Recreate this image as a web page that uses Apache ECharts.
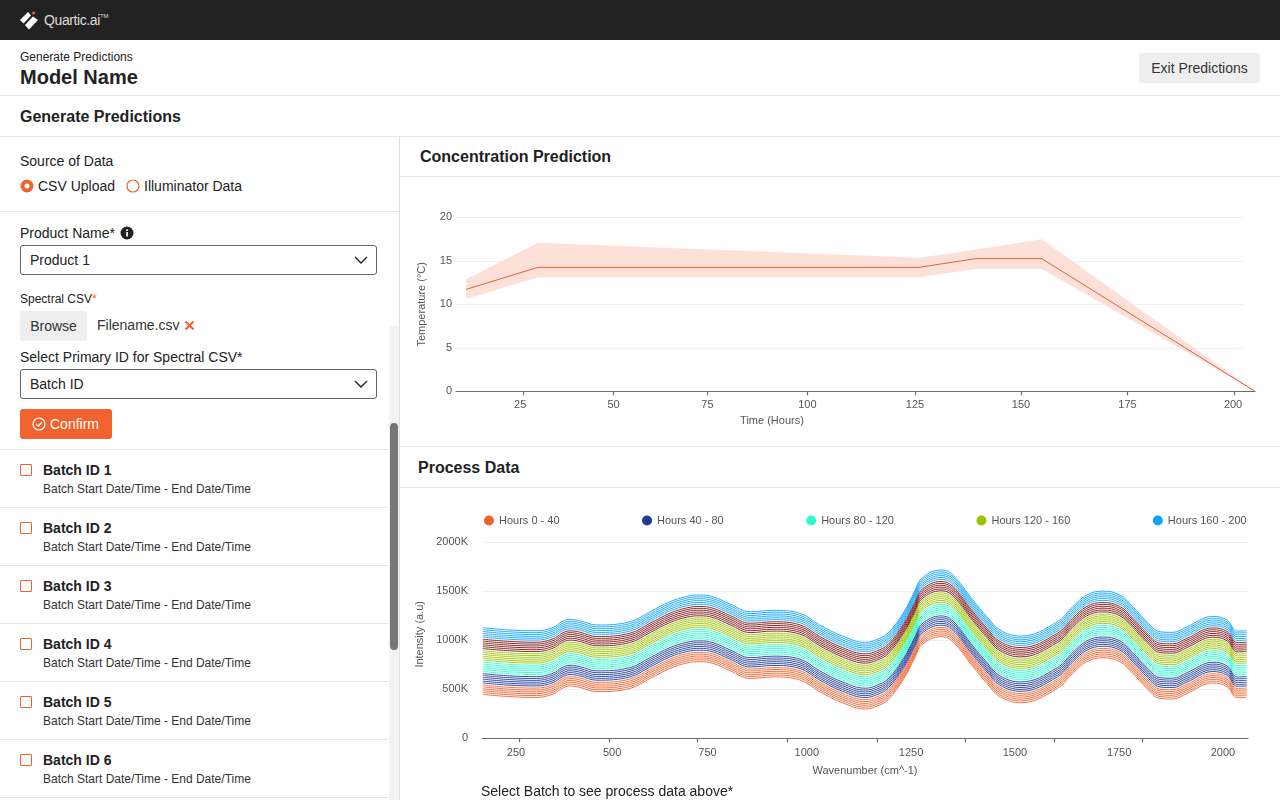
<!DOCTYPE html>
<html>
<head>
<meta charset="utf-8">
<title>Generate Predictions</title>
<script src="https://cdn.jsdelivr.net/npm/echarts@6/dist/echarts.min.js"></script>
<style>
  html, body { margin: 0; padding: 0; background: #fff; overflow: hidden; }
  body { position: relative; width: 1280px; height: 800px; font-family: "Liberation Sans", Arial, sans-serif; color: #222; }
  .abs { position: absolute; white-space: nowrap; }
  .rule { position: absolute; background: #e8e8e8; height: 1px; }
  .select { position: absolute; left: 20px; width: 355px; border: 1px solid #666; border-radius: 3px; box-sizing: content-box; }
  .select span { position: absolute; left: 9px; top: 6px; font-size: 14px; }
  .select svg { position: absolute; right: 8px; top: 9px; }
  .box { position: absolute; left: 20px; width: 10px; height: 10px; border: 1.5px solid #f2622e; border-radius: 1px; }
  .batch { position: absolute; left: 43px; font-size: 14px; font-weight: bold; white-space: nowrap; }
  .sub { position: absolute; left: 43px; font-size: 12px; white-space: nowrap; color: #333; }
</style>
</head>
<body>
<div class="abs" style="left:0;top:0;width:1280px;height:40px;background:#222"></div>
<svg class="abs" style="left:19px;top:9px" width="22" height="22" viewBox="0 0 22 22">
  <polygon points="1,11 9,3 12,6.5 4.5,14.5" fill="#fff"/>
  <polygon points="6,16 14,7.5 19,11 10,20.5" fill="#fff"/>
  <polygon points="13,3 15.5,2.5 16,5 13.5,5.5" fill="#f2622e"/>
</svg>
<div class="abs" style="left:44px;top:12px;font-size:14px;letter-spacing:-0.4px;color:#ddd">Quartic.ai<sup style="font-size:6px;vertical-align:7px;letter-spacing:0">TM</sup></div>

<div class="abs" style="left:20px;top:50px;font-size:12px">Generate Predictions</div>
<div class="abs" style="left:20px;top:66px;font-size:20px;font-weight:bold">Model Name</div>
<div class="abs" style="left:1139px;top:53px;width:121px;height:30px;line-height:30px;background:#eee;border-radius:3px;text-align:center;font-size:14px;color:#333">Exit Predictions</div>
<div class="rule" style="left:0;top:95px;width:1280px"></div>
<div class="abs" style="left:20px;top:108px;font-size:16px;font-weight:bold">Generate Predictions</div>
<div class="rule" style="left:0;top:136px;width:1280px"></div>

<!-- left form -->
<div class="abs" style="left:399px;top:136px;width:1px;height:664px;background:#e0e0e0"></div>
<div class="abs" style="left:20px;top:153px;font-size:14px">Source of Data</div>
<svg class="abs" style="left:20px;top:179px" width="14" height="14"><circle cx="7" cy="7" r="6.5" fill="#f2622e"/><circle cx="7" cy="7" r="2.5" fill="#fff"/></svg>
<div class="abs" style="left:38px;top:178px;font-size:14px">CSV Upload</div>
<svg class="abs" style="left:126px;top:179px" width="14" height="14"><circle cx="7" cy="7" r="6" fill="none" stroke="#f2622e" stroke-width="1.2"/></svg>
<div class="abs" style="left:144px;top:178px;font-size:14px">Illuminator Data</div>
<div class="rule" style="left:0;top:211px;width:399px"></div>

<div class="abs" style="left:20px;top:225px;font-size:14px">Product Name*</div>
<svg class="abs" style="left:120px;top:226px" width="14" height="14"><circle cx="7" cy="7" r="6.5" fill="#222"/><rect x="6.2" y="6" width="1.7" height="4.5" fill="#fff"/><rect x="6.2" y="3.3" width="1.7" height="1.7" fill="#fff"/></svg>
<div class="select" style="top:245px;height:28px"><span>Product 1</span><svg width="14" height="10"><polyline points="1,2 7,8 13,2" fill="none" stroke="#222" stroke-width="1.4"/></svg></div>

<div class="abs" style="left:20px;top:292px;font-size:12px">Spectral CSV<span style="color:#f2622e">*</span></div>
<div class="abs" style="left:20px;top:311px;width:67px;height:30px;line-height:30px;background:#eee;border-radius:3px;text-align:center;font-size:14px;color:#333">Browse</div>
<div class="abs" style="left:97px;top:317px;font-size:14px;color:#333">Filename.csv</div>
<svg class="abs" style="left:184px;top:320px" width="11" height="11"><path d="M1.5,1.5 L9.5,9.5 M9.5,1.5 L1.5,9.5" stroke="#f2622e" stroke-width="2"/></svg>
<div class="abs" style="left:20px;top:349px;font-size:14px">Select Primary ID for Spectral CSV*</div>
<div class="select" style="top:369px;height:28px"><span>Batch ID</span><svg width="14" height="10"><polyline points="1,2 7,8 13,2" fill="none" stroke="#222" stroke-width="1.4"/></svg></div>
<div class="abs" style="left:20px;top:409px;width:92px;height:30px;background:#f2622e;border-radius:3px"></div>
<svg class="abs" style="left:32px;top:417px" width="14" height="14"><circle cx="7" cy="7" r="6" fill="none" stroke="#fff" stroke-width="1.2"/><polyline points="4,7 6.3,9.3 10,5" fill="none" stroke="#fff" stroke-width="1.2"/></svg>
<div class="abs" style="left:50px;top:416px;font-size:14px;color:#fff">Confirm</div>
<div class="rule" style="left:0;top:449px;width:389px"></div>

<div class="box" style="top:464px"></div><div class="batch" style="top:462px">Batch ID 1</div><div class="sub" style="top:482px">Batch Start Date/Time - End Date/Time</div>
<div class="rule" style="left:0;top:507px;width:389px"></div>
<div class="box" style="top:522px"></div><div class="batch" style="top:520px">Batch ID 2</div><div class="sub" style="top:540px">Batch Start Date/Time - End Date/Time</div>
<div class="rule" style="left:0;top:565px;width:389px"></div>
<div class="box" style="top:580px"></div><div class="batch" style="top:578px">Batch ID 3</div><div class="sub" style="top:598px">Batch Start Date/Time - End Date/Time</div>
<div class="rule" style="left:0;top:623px;width:389px"></div>
<div class="box" style="top:638px"></div><div class="batch" style="top:636px">Batch ID 4</div><div class="sub" style="top:656px">Batch Start Date/Time - End Date/Time</div>
<div class="rule" style="left:0;top:681px;width:389px"></div>
<div class="box" style="top:696px"></div><div class="batch" style="top:694px">Batch ID 5</div><div class="sub" style="top:714px">Batch Start Date/Time - End Date/Time</div>
<div class="rule" style="left:0;top:739px;width:389px"></div>
<div class="box" style="top:754px"></div><div class="batch" style="top:752px">Batch ID 6</div><div class="sub" style="top:772px">Batch Start Date/Time - End Date/Time</div>
<div class="rule" style="left:0;top:797px;width:389px"></div>

<div class="abs" style="left:389px;top:326px;width:10px;height:474px;background:#f3f3f3"></div>
<div class="abs" style="left:390px;top:423px;width:8px;height:227px;background:#777;border-radius:4px"></div>

<!-- right panels -->
<div class="abs" style="left:420px;top:148px;font-size:16px;font-weight:bold">Concentration Prediction</div>
<div class="rule" style="left:400px;top:176px;width:880px"></div>
<div id="predictionChart" class="abs" style="left:400px;top:177px;width:880px;height:269px"></div>
<div class="rule" style="left:400px;top:446px;width:880px"></div>
<div class="abs" style="left:418px;top:459px;font-size:16px;font-weight:bold">Process Data</div>
<div class="rule" style="left:400px;top:487px;width:880px"></div>
<div id="processChart" class="abs" style="left:400px;top:488px;width:880px;height:298px"></div>
<div class="abs" style="left:481px;top:783px;font-size:14px">Select Batch to see process data above*</div>

<script>
// concentration prediction
const timeHours = [11, 28.7, 122.5, 136.5, 152.7, 205.2];
const predicted = [11.72, 14.25, 14.25, 15.25, 15.25, 0];
const bandUpper = [12.87, 17.08, 15.36, 16.3, 17.47, 0];
const bandLower = [10.6, 13.1, 13.1, 14.05, 14.05, 0];
const tempGridValues = [5, 10, 15, 20];
// the picture's tick spacing is uneven, so ticks sit at read positions on a linear axis
const timeTickPos = [25, 47.3, 70.4, 95, 121.5, 147.6, 173.8, 200];
const timeLabelPos = [24.3, 47.3, 70.4, 95, 121.5, 147.6, 173.8, 199.8];
const timeTickLabels = ['25', '50', '75', '100', '125', '150', '175', '200'];

// process data, intensity in K at each wavenumber
const waveLabelPos = [250, 488, 724, 970, 1228, 1485, 1743, 2000];
const waveLabels = ['250', '500', '750', '1000', '1250', '1500', '1750', '2000'];
const waveTickPos = [257, 480, 698, 921, 1144, 1361, 1582, 1800];
const wavenumbers = [168,235,300,342,364,384,408,450,532,582,631,673,705,738,780,830,886,953,1002,1058,1115,1143,1171,1210,1236,1255,1302,1329,1381,1416,1448,1500,1590,1628,1663,1703,1745,1777,1812,1844,1876,1911,1975,2010,2035,2059];

const blueLines = [
  [1128,1105,1097,1132,1189,1214,1200,1156,1189,1291,1393,1448,1462,1444,1370,1291,1306,1275,1156,1043,979,1008,1074,1288,1492,1635,1717,1676,1411,1240,1105,1043,1189,1342,1462,1502,1462,1342,1189,1087,1081,1138,1244,1207,1094,1097],
  [1109,1086,1078,1113,1170,1195,1181,1137,1170,1272,1374,1429,1443,1425,1351,1272,1287,1256,1137,1024,960,989,1055,1269,1473,1616,1698,1657,1392,1221,1086,1024,1170,1323,1443,1483,1443,1323,1170,1068,1062,1119,1225,1188,1075,1078],
  [1090,1067,1059,1094,1151,1176,1162,1118,1151,1253,1355,1410,1424,1406,1332,1253,1268,1237,1118,1005,941,970,1036,1250,1454,1597,1679,1638,1373,1202,1067,1005,1151,1304,1424,1464,1424,1304,1151,1049,1043,1100,1206,1169,1056,1059],
  [1071,1048,1040,1075,1132,1157,1143,1099,1132,1234,1336,1391,1405,1387,1313,1234,1249,1218,1099,986,922,951,1017,1231,1435,1578,1660,1619,1354,1183,1048,986,1132,1285,1405,1445,1405,1285,1132,1030,1024,1081,1187,1150,1037,1040],
  [1052,1029,1021,1056,1113,1138,1124,1080,1113,1215,1317,1372,1386,1368,1294,1215,1230,1199,1080,967,903,932,998,1212,1416,1559,1641,1600,1335,1164,1029,967,1113,1266,1386,1426,1386,1266,1113,1011,1005,1062,1168,1131,1018,1021],
  [1033,1010,1002,1037,1094,1119,1105,1061,1094,1196,1298,1353,1367,1349,1275,1196,1211,1180,1061,948,884,913,979,1193,1397,1540,1622,1581,1316,1145,1010,948,1094,1247,1367,1407,1367,1247,1094,992,986,1043,1149,1112,999,1002]
];
const maroonLines = [
  [1011,988,980,1015,1072,1097,1083,1039,1072,1174,1276,1331,1345,1327,1253,1174,1189,1158,1039,926,862,891,957,1171,1375,1518,1600,1559,1294,1123,988,926,1072,1225,1345,1385,1345,1225,1072,970,964,1021,1127,1090,977,980],
  [992,969,961,996,1053,1078,1064,1020,1053,1155,1257,1312,1326,1308,1234,1155,1170,1139,1020,907,843,872,938,1152,1356,1499,1581,1540,1275,1104,969,907,1053,1206,1326,1366,1326,1206,1053,951,945,1002,1108,1071,958,961],
  [973,950,942,977,1034,1059,1045,1001,1034,1136,1238,1293,1307,1289,1215,1136,1151,1120,1001,888,824,853,919,1133,1337,1480,1562,1521,1256,1085,950,888,1034,1187,1307,1347,1307,1187,1034,932,926,983,1089,1052,939,942],
  [954,931,923,958,1015,1040,1026,982,1015,1117,1219,1274,1288,1270,1196,1117,1132,1101,982,869,805,834,900,1114,1318,1461,1543,1502,1237,1066,931,869,1015,1168,1288,1328,1288,1168,1015,913,907,964,1070,1033,920,923],
  [935,912,904,939,996,1021,1007,963,996,1098,1200,1255,1269,1251,1177,1098,1113,1082,963,850,786,815,881,1095,1299,1442,1524,1483,1218,1047,912,850,996,1149,1269,1309,1269,1149,996,894,888,945,1051,1014,901,904],
  [916,893,885,920,977,1002,988,944,977,1079,1181,1236,1250,1232,1158,1079,1094,1063,944,831,767,796,862,1076,1280,1423,1505,1464,1199,1028,893,831,977,1130,1250,1290,1250,1130,977,875,869,926,1032,995,882,885]
];
const greenLines = [
  [894,871,863,898,955,980,966,922,955,1057,1159,1214,1228,1210,1136,1057,1072,1041,922,809,745,774,840,1054,1258,1401,1483,1442,1177,1006,871,809,955,1108,1228,1268,1228,1108,955,853,847,904,1010,973,860,863],
  [875,852,844,879,936,961,947,903,936,1038,1140,1195,1209,1191,1117,1038,1053,1022,903,790,726,755,821,1035,1239,1382,1464,1423,1158,987,852,790,936,1089,1209,1249,1209,1089,936,834,828,885,991,954,841,844],
  [856,833,825,860,917,942,928,884,917,1019,1121,1176,1190,1172,1098,1019,1034,1003,884,771,707,736,802,1016,1220,1363,1445,1404,1139,968,833,771,917,1070,1190,1230,1190,1070,917,815,809,866,972,935,822,825],
  [837,814,806,841,898,923,909,865,898,1000,1102,1157,1171,1153,1079,1000,1015,984,865,752,688,717,783,997,1201,1344,1426,1385,1120,949,814,752,898,1051,1171,1211,1171,1051,898,796,790,847,953,916,803,806],
  [818,795,787,822,879,904,890,846,879,981,1083,1138,1152,1134,1060,981,996,965,846,733,669,698,764,978,1182,1325,1407,1366,1101,930,795,733,879,1032,1152,1192,1152,1032,879,777,771,828,934,897,784,787],
  [799,776,768,803,860,885,871,827,860,962,1064,1119,1133,1115,1041,962,977,946,827,714,650,679,745,959,1163,1306,1388,1347,1082,911,776,714,860,1013,1133,1173,1133,1013,860,758,752,809,915,878,765,768]
];
const tealLines = [
  [777,754,746,781,838,863,849,805,838,940,1042,1097,1111,1093,1019,940,955,924,805,692,628,657,723,937,1141,1284,1366,1325,1060,889,754,692,838,991,1111,1151,1111,991,838,736,730,787,893,856,743,746],
  [758,735,727,762,819,844,830,786,819,921,1023,1078,1092,1074,1000,921,936,905,786,673,609,638,704,918,1122,1265,1347,1306,1041,870,735,673,819,972,1092,1132,1092,972,819,717,711,768,874,837,724,727],
  [739,716,708,743,800,825,811,767,800,902,1004,1059,1073,1055,981,902,917,886,767,654,590,619,685,899,1103,1246,1328,1287,1022,851,716,654,800,953,1073,1113,1073,953,800,698,692,749,855,818,705,708],
  [720,697,689,724,781,806,792,748,781,883,985,1040,1054,1036,962,883,898,867,748,635,571,600,666,880,1084,1227,1309,1268,1003,832,697,635,781,934,1054,1094,1054,934,781,679,673,730,836,799,686,689],
  [701,678,670,705,762,787,773,729,762,864,966,1021,1035,1017,943,864,879,848,729,616,552,581,647,861,1065,1208,1290,1249,984,813,678,616,762,915,1035,1075,1035,915,762,660,654,711,817,780,667,670],
  [682,659,651,686,743,768,754,710,743,845,947,1002,1016,998,924,845,860,829,710,597,533,562,628,842,1046,1189,1271,1230,965,794,659,597,743,896,1016,1056,1016,896,743,641,635,692,798,761,648,651]
];
const navyLines = [
  [660,637,629,664,721,746,732,688,721,823,925,980,994,976,902,823,838,807,688,575,511,540,606,820,1024,1167,1249,1208,943,772,637,575,721,874,994,1034,994,874,721,619,613,670,776,739,626,629],
  [641,618,610,645,702,727,713,669,702,804,906,961,975,957,883,804,819,788,669,556,492,521,587,801,1005,1148,1230,1189,924,753,618,556,702,855,975,1015,975,855,702,600,594,651,757,720,607,610],
  [622,599,591,626,683,708,694,650,683,785,887,942,956,938,864,785,800,769,650,537,473,502,568,782,986,1129,1211,1170,905,734,599,537,683,836,956,996,956,836,683,581,575,632,738,701,588,591],
  [603,580,572,607,664,689,675,631,664,766,868,923,937,919,845,766,781,750,631,518,454,483,549,763,967,1110,1192,1151,886,715,580,518,664,817,937,977,937,817,664,562,556,613,719,682,569,572],
  [584,561,553,588,645,670,656,612,645,747,849,904,918,900,826,747,762,731,612,499,435,464,530,744,948,1091,1173,1132,867,696,561,499,645,798,918,958,918,798,645,543,537,594,700,663,550,553],
  [565,542,534,569,626,651,637,593,626,728,830,885,899,881,807,728,743,712,593,480,416,445,511,725,929,1072,1154,1113,848,677,542,480,626,779,899,939,899,779,626,524,518,575,681,644,531,534]
];
const orangeLines = [
  [543,520,512,547,604,629,615,571,604,706,808,863,877,859,785,706,721,690,571,458,394,423,489,703,907,1050,1132,1091,826,655,520,458,604,757,877,917,877,757,604,502,496,553,659,622,509,512],
  [524,501,493,528,585,610,596,552,585,687,789,844,858,840,766,687,702,671,552,439,375,404,470,684,888,1031,1113,1072,807,636,501,439,585,738,858,898,858,738,585,483,477,534,640,603,490,493],
  [505,482,474,509,566,591,577,533,566,668,770,825,839,821,747,668,683,652,533,420,356,385,451,665,869,1012,1094,1053,788,617,482,420,566,719,839,879,839,719,566,464,458,515,621,584,471,474],
  [486,463,455,490,547,572,558,514,547,649,751,806,820,802,728,649,664,633,514,401,337,366,432,646,850,993,1075,1034,769,598,463,401,547,700,820,860,820,700,547,445,439,496,602,565,452,455],
  [467,444,436,471,528,553,539,495,528,630,732,787,801,783,709,630,645,614,495,382,318,347,413,627,831,974,1056,1015,750,579,444,382,528,681,801,841,801,681,528,426,420,477,583,546,433,436],
  [448,425,417,452,509,534,520,476,509,611,713,768,782,764,690,611,626,595,476,363,299,328,394,608,812,955,1037,996,731,560,425,363,509,662,782,822,782,662,509,407,401,458,564,527,414,417]
];
const legendNames = ['Hours 0 - 40', 'Hours 40 - 80', 'Hours 80 - 120', 'Hours 120 - 160', 'Hours 160 - 200'];

const FONT = '"Liberation Sans", Arial, sans-serif';
const AXIS_GREY = '#555';
const GRID_GREY = '#eef0f0';

function xAxisFor(min, max, name, tickPos, labelPos, labels, labelMargin, extra) {
  return Object.assign({
    type: 'value',
    min: min,
    max: max,
    name: name,
    nameLocation: 'middle',
    splitLine: { show: false },
    axisLine: { lineStyle: { color: '#6b6b6b', width: 1.2 } },
    axisTick: { customValues: tickPos, length: 4, lineStyle: { color: '#6b6b6b', width: 1.2 } },
    axisLabel: {
      customValues: labelPos,
      color: AXIS_GREY,
      fontSize: 11,
      fontFamily: FONT,
      margin: labelMargin,
      formatter: function (value) {
        return labels[labelPos.indexOf(value)];
      }
    }
  }, extra);
}

const TIME_MIN = 8.5;
const GRID_END = 202.2; // gridlines stop short of the axis end

const predictionChart = echarts.init(document.getElementById('predictionChart'));
predictionChart.setOption({
  animation: false,
  grid: { left: 56, top: 40.3, width: 799, height: 174 },
  xAxis: xAxisFor(TIME_MIN, 205.2, 'Time (Hours)', timeTickPos, timeLabelPos, timeTickLabels, 8, {
    nameGap: 23,
    nameTextStyle: { color: AXIS_GREY, fontSize: 11, fontFamily: FONT, padding: [0, 167, 0, 0] }
  }),
  yAxis: {
    type: 'value',
    min: 0,
    max: 20,
    interval: 5,
    name: 'Temperature (°C)',
    nameLocation: 'middle',
    nameGap: 29,
    nameTextStyle: { color: AXIS_GREY, fontSize: 11, fontFamily: FONT },
    axisLine: { show: false },
    axisTick: { show: false },
    axisLabel: { color: AXIS_GREY, fontSize: 11, fontFamily: FONT, margin: 4, padding: [2, 0, 0, 0] },
    splitLine: { show: false }
  },
  series: [
    {
      type: 'custom',
      z: 2,
      data: timeHours.map((t, i) => [t, bandUpper[i], bandLower[i]]),
      renderItem: function (params, api) {
        if (params.dataIndex !== 0) {
          return null;
        }
        const upper = timeHours.map((t, i) => api.coord([t, bandUpper[i]]));
        const lower = timeHours.map((t, i) => api.coord([t, bandLower[i]])).reverse();
        return {
          type: 'polygon',
          shape: { points: upper.concat(lower) },
          style: { fill: '#fde1d9' }
        };
      }
    },
    {
      type: 'line',
      z: 3,
      symbol: 'none',
      lineStyle: { color: '#e0623a', width: 1 },
      data: timeHours.map((t, i) => [t, predicted[i]]),
      markLine: {
        silent: true,
        z: 1,
        symbol: ['none', 'none'],
        label: { show: false },
        lineStyle: { color: GRID_GREY, type: 'solid', width: 1 },
        data: tempGridValues.map((v) => [{ coord: [TIME_MIN, v] }, { coord: [GRID_END, v] }])
      }
    }
  ]
});

const processGroups = [
  { name: legendNames[0], color: '#f4612c', lines: orangeLines },
  { name: legendNames[1], color: '#1d3a94', lines: navyLines },
  { name: legendNames[2], color: '#2dfccb', lines: tealLines },
  { name: legendNames[3], color: '#9bc400', lines: greenLines },
  { name: 'Unlabelled', color: '#7a1414', lines: maroonLines },
  { name: legendNames[4], color: '#0ca1ff', lines: blueLines }
];

const processSeries = [];
processGroups.forEach(function (group) {
  group.lines.forEach(function (row) {
    processSeries.push({
      type: 'line',
      name: group.name,
      smooth: 0.4,
      symbol: 'none',
      itemStyle: { color: group.color },
      lineStyle: { color: group.color, width: 0.9 },
      data: wavenumbers.map((w, i) => [w, row[i]])
    });
  });
});

const processChart = echarts.init(document.getElementById('processChart'));
processChart.setOption({
  animation: false,
  legend: {
    data: legendNames,
    left: 79,
    top: 22,
    icon: 'circle',
    itemWidth: 10,
    itemHeight: 10,
    itemGap: 82.5,
    selectedMode: false,
    textStyle: { color: AXIS_GREY, fontSize: 11, fontFamily: FONT }
  },
  grid: { left: 82, top: 54.3, width: 766, height: 196 },
  xAxis: xAxisFor(166, 2062, 'Wavenumber (cm^-1)', waveTickPos, waveLabelPos, waveLabels, 9, {
    nameGap: 27,
    nameTextStyle: { color: AXIS_GREY, fontSize: 11, fontFamily: FONT }
  }),
  yAxis: {
    type: 'value',
    min: 0,
    max: 2000,
    interval: 500,
    name: 'Intensity (a.u)',
    nameLocation: 'middle',
    nameGap: 50,
    nameTextStyle: { color: AXIS_GREY, fontSize: 11, fontFamily: FONT, padding: [0, 0, 0, 12] },
    axisLine: { show: false },
    axisTick: { show: false },
    axisLabel: {
      color: AXIS_GREY,
      fontSize: 11,
      fontFamily: FONT,
      margin: 14,
      padding: [2, 0, 0, 0],
      formatter: function (value) {
        return value === 0 ? '0' : value + 'K';
      }
    },
    splitLine: { lineStyle: { color: GRID_GREY } }
  },
  series: processSeries
});
</script>
</body>
</html>
